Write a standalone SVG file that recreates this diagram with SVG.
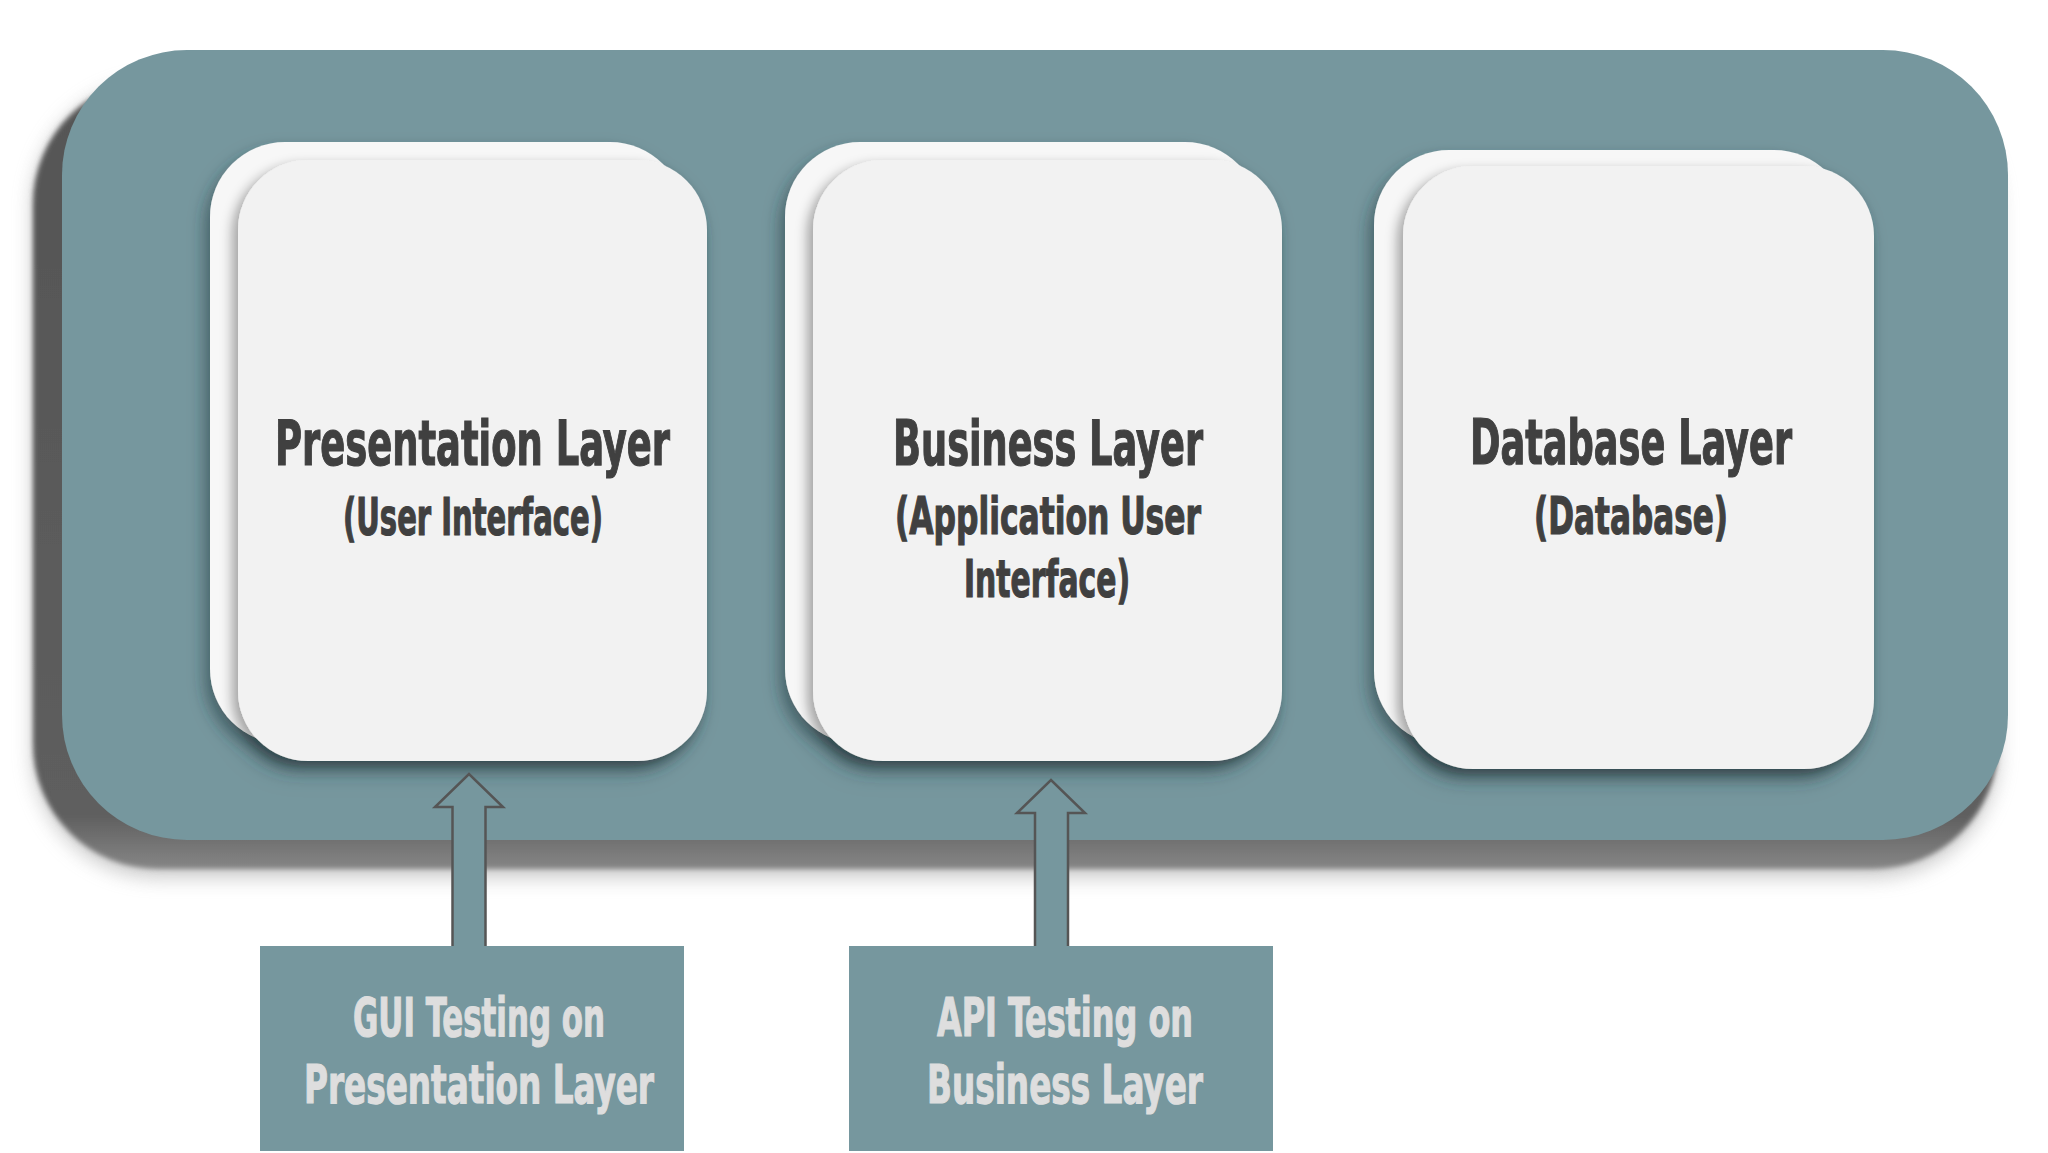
<svg xmlns="http://www.w3.org/2000/svg" width="2048" height="1153" viewBox="0 0 2048 1153">
  <defs>
    <linearGradient id="shGrad" x1="0" y1="0" x2="0" y2="1">
      <stop offset="0" stop-color="#555555"/>
      <stop offset="0.93" stop-color="#5e5e5e"/>
      <stop offset="1" stop-color="#868686"/>
    </linearGradient>
    <filter id="blurSoft" x="-5%" y="-5%" width="110%" height="115%">
      <feGaussianBlur stdDeviation="2.5"/>
    </filter>
    <filter id="halo" x="-5%" y="-5%" width="110%" height="115%">
      <feGaussianBlur stdDeviation="10"/>
    </filter>
    <filter id="stackShadow" x="-20%" y="-20%" width="140%" height="140%">
      <feDropShadow dx="-5" dy="9" stdDeviation="8" flood-color="#1c343a" flood-opacity="0.55"/>
    </filter>
    <filter id="frontShadow" x="-20%" y="-20%" width="140%" height="140%">
      <feDropShadow dx="-6" dy="5" stdDeviation="6" flood-color="#000000" flood-opacity="0.33"/>
    </filter>
  </defs>
  <style>
    .teal { fill: #76979e; }
    .back { fill: #f7f7f7; }
    .front { fill: #f2f2f2; }
    .title { font-family: 'Liberation Sans Narrow', 'DejaVu Sans Condensed', 'Liberation Sans', sans-serif; font-weight: bold; font-stretch: condensed; fill: #404040; stroke: #404040; stroke-width: 1.2; }
    .t1 { font-size: 62px; }
    .t2 { font-size: 51px; }
    .lbl { font-family: 'Liberation Sans Narrow', 'DejaVu Sans Condensed', 'Liberation Sans', sans-serif; font-weight: bold; font-stretch: condensed; fill: #dedede; stroke: #dedede; stroke-width: 1.2; font-size: 54px; }
    .arrow { fill: #76979e; stroke: #555555; stroke-width: 2.5; stroke-linejoin: miter; }
  </style>

  <rect width="2048" height="1153" fill="#ffffff"/>

  <g id="container">
    <rect x="33" y="82" width="1965" height="795" rx="125" fill="#9a9a9a" opacity="0.55" filter="url(#halo)"/>
    <rect x="33" y="79" width="1965" height="790" rx="125" fill="url(#shGrad)" filter="url(#blurSoft)"/>
    <rect x="62" y="50" width="1946" height="790" rx="125" class="teal"/>
  </g>

  <g id="presentation-layer">
    <g filter="url(#stackShadow)">
      <rect x="210" y="142" width="475" height="602" rx="75" class="back"/>
      <rect x="238" y="160" width="469" height="601" rx="70" class="front" filter="url(#frontShadow)"/>
    </g>
    <text class="title t1" x="275" y="465" textLength="395" lengthAdjust="spacingAndGlyphs">Presentation Layer</text>
    <text class="title t2" x="343" y="535" textLength="260" lengthAdjust="spacingAndGlyphs">(User Interface)</text>
  </g>

  <g id="business-layer">
    <g filter="url(#stackShadow)">
      <rect x="785" y="142" width="475" height="602" rx="75" class="back"/>
      <rect x="813" y="160" width="469" height="601" rx="70" class="front" filter="url(#frontShadow)"/>
    </g>
    <text class="title t1" x="893" y="465" textLength="310" lengthAdjust="spacingAndGlyphs">Business Layer</text>
    <text class="title t2" x="895" y="534" textLength="306" lengthAdjust="spacingAndGlyphs">(Application User</text>
    <text class="title t2" x="964" y="597" textLength="166" lengthAdjust="spacingAndGlyphs">Interface)</text>
  </g>

  <g id="database-layer">
    <g filter="url(#stackShadow)">
      <rect x="1374" y="150" width="475" height="596" rx="75" class="back"/>
      <rect x="1403" y="166" width="471" height="603" rx="70" class="front" filter="url(#frontShadow)"/>
    </g>
    <text class="title t1" x="1470" y="464" textLength="322" lengthAdjust="spacingAndGlyphs">Database Layer</text>
    <text class="title t2" x="1534" y="534" textLength="194" lengthAdjust="spacingAndGlyphs">(Database)</text>
  </g>

  <g id="connectors">
    <path class="arrow" d="M452.5,948 V807 H435 L469,774 L503,807 H485.5 V948"/>
    <path class="arrow" d="M1035,948 V813 H1017 L1051,780 L1085,813 H1068 V948"/>
  </g>

  <g id="gui-testing">
    <rect x="260" y="946" width="424" height="205" class="teal"/>
    <text class="lbl" x="353" y="1036" textLength="252" lengthAdjust="spacingAndGlyphs">GUI Testing on</text>
    <text class="lbl" x="304" y="1103" textLength="350" lengthAdjust="spacingAndGlyphs">Presentation Layer</text>
  </g>

  <g id="api-testing">
    <rect x="849" y="946" width="424" height="205" class="teal"/>
    <text class="lbl" x="937" y="1036" textLength="256" lengthAdjust="spacingAndGlyphs">API Testing on</text>
    <text class="lbl" x="927" y="1103" textLength="276" lengthAdjust="spacingAndGlyphs">Business Layer</text>
  </g>
</svg>
